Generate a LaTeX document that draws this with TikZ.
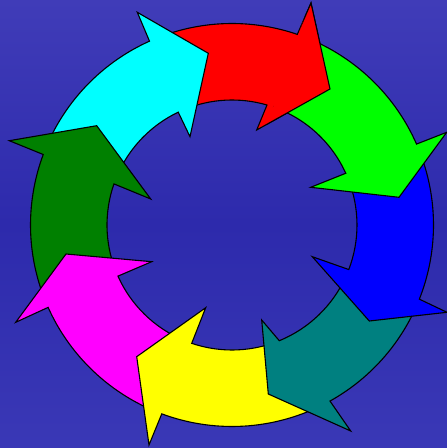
\documentclass[tikz,border=0pt]{standalone}
\usetikzlibrary{calc}
\definecolor{bgtop}{RGB}{64,60,184}
\definecolor{bgmid}{RGB}{45,42,172}
\definecolor{bgbot}{RGB}{58,56,182}
\definecolor{cred}{RGB}{255,0,0}
\definecolor{cgreen}{RGB}{0,255,0}
\definecolor{cblue}{RGB}{0,0,255}
\definecolor{cteal}{RGB}{0,128,128}
\definecolor{cyellow}{RGB}{255,255,0}
\definecolor{cmagenta}{RGB}{255,0,255}
\definecolor{cdkgreen}{RGB}{0,128,0}
\definecolor{ccyan}{RGB}{0,255,255}
\tikzset{ringarr/.style={draw=black,line width=1.1pt,line join=miter}}
\begin{document}
\begin{tikzpicture}[x=1pt,y=1pt]
\useasboundingbox (0,0) rectangle (447,448);
\shade[top color=bgtop,bottom color=bgbot,middle color=bgmid] (0,0) rectangle (447,448);
\begin{scope}[shift={(232,223)}]
% red (bottom)
\def\redpath{(109.8:201.5pt) arc[start angle=109.8,end angle=71.08,radius=201.5pt] -- (79,222) -- (98,136) -- (24.7,95) -- (73.74:125pt) arc[start angle=73.74,end angle=112.3,radius=125pt] -- cycle}
\draw[ringarr,fill=cred] \redpath;
% cyan
\draw[ringarr,fill=ccyan] (155.3:201.5pt) arc[start angle=155.3,end angle=114.17,radius=201.5pt] -- (-94.7,212.7) -- (-23.7,171.7) -- (-42,88.3) -- (115.48:125pt) arc[start angle=115.48,end angle=157,radius=125pt] -- cycle;
% dark green
\draw[ringarr,fill=cdkgreen] (-159.5:201.5pt) arc[start angle=-159.5,end angle=-200.48,radius=201.5pt] -- (-222.7,84.3) -- (-135.3,99.3) -- (-81.3,26) -- (-199.2:125pt) arc[start angle=-199.2,end angle=-159,radius=125pt] -- cycle;
% magenta
\draw[ringarr,fill=cmagenta] (-114:201.5pt) arc[start angle=-114,end angle=-155.87,radius=201.5pt] -- (-216.3,-97.3) -- (-166,-29) -- (-80.3,-36.7) -- (-155.85:125pt) arc[start angle=-155.85,end angle=-112.8,radius=125pt] -- cycle;
% yellow
\draw[ringarr,fill=cyellow] (-65.5:201.5pt) arc[start angle=-65.5,end angle=-110.4,radius=201.5pt] -- (-83,-220) -- (-95.3,-131.7) -- (-26.3,-82.7) -- (-108.8:125pt) arc[start angle=-108.8,end angle=-71,radius=125pt] -- cycle;
% teal
\draw[ringarr,fill=cteal] (-24.9:201.5pt) arc[start angle=-24.9,end angle=-60.9,radius=201.5pt] -- (118.7,-206) -- (36.3,-169) -- (29.7,-95) -- (-67.77:125pt) arc[start angle=-67.77,end angle=-24.4,radius=125pt] -- cycle;
% blue
\draw[ringarr,fill=cblue] (20:201.5pt) arc[start angle=20,end angle=-21.59,radius=201.5pt] -- (215,-87.3) -- (137.3,-96) -- (80.3,-31.7) -- (-20.88:125pt) arc[start angle=-20.88,end angle=21.3,radius=125pt] -- cycle;
% green
\draw[ringarr,fill=cgreen] (66.7:201.5pt) arc[start angle=66.7,end angle=23.68,radius=201.5pt] -- (214.7,92.7) -- (167,27.7) -- (78.7,37.7) -- (24.45:125pt) arc[start angle=24.45,end angle=70.5,radius=125pt] -- cycle;
% red head on top of green tail
\begin{scope}
\clip (0,0) -- (70.8:320pt) arc[start angle=70.8,end angle=40,radius=320pt] -- cycle;
\draw[ringarr,fill=cred] \redpath;
\end{scope}
\end{scope}
\end{tikzpicture}
\end{document}
